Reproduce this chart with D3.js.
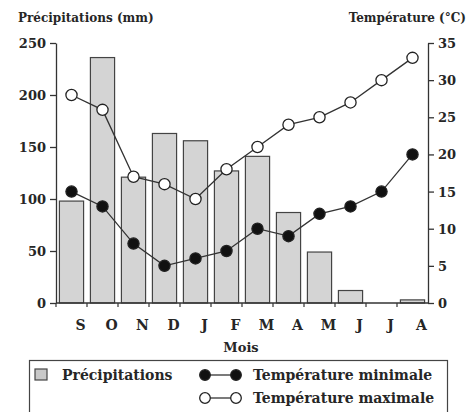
<!DOCTYPE html>
<html>
<head>
<meta charset="utf-8">
<script src="https://cdn.jsdelivr.net/npm/d3@7"></script>
<style>
  body { margin: 0; background: #fff; }
  text { font-family: "DejaVu Serif", "Liberation Serif", serif; font-weight: bold; fill: #262626; }
  .axis path, .axis line { stroke: #333; stroke-width: 1.3; }
</style>
</head>
<body>
<svg width="468" height="412"></svg>
<script>
// months and values
const months = ["S", "O", "N", "D", "J", "F", "M", "A", "M", "J", "J", "A"];
const precip = [98, 236, 121, 163, 156, 127, 141, 87, 49, 12, 0, 3];
const tempMin = [15, 13, 8, 5, 6, 7, 10, 9, 12, 13, 15, 20];
const tempMax = [28, 26, 17, 16, 14, 18, 21, 24, 25, 27, 30, 33];
const precipTicks = [0, 50, 100, 150, 200, 250];
const tempTicks = [0, 5, 10, 15, 20, 25, 30, 35];

const svg = d3.select("svg");
const plotL = 56, plotR = 428, plotT = 43, plotB = 303;

const x = d3.scaleBand()
  .domain(d3.range(months.length))
  .range([plotL, plotR])
  .paddingInner(0.22)
  .paddingOuter(0.11);

const yP = d3.scaleLinear().domain([0, 250]).range([plotB, plotT]);
const yT = d3.scaleLinear().domain([0, 35]).range([plotB, plotT]);

// bars
svg.append("g").selectAll("rect")
  .data(precip)
  .join("rect")
    .attr("x", (d, i) => x(i))
    .attr("y", d => yP(d))
    .attr("width", x.bandwidth())
    .attr("height", d => yP(0) - yP(d))
    .style("fill", "#d4d4d4")
    .style("stroke", "#444")
    .style("stroke-width", 1.2);

// left axis
const gl = svg.append("g").attr("class", "axis")
  .attr("transform", "translate(" + plotL + ",0)")
  .call(d3.axisLeft(yP).tickValues(precipTicks).tickSize(6).tickSizeOuter(0));
gl.selectAll("text").style("font-size", "13px").attr("x", -10).attr("dy", "0.35em");

// right axis
const gr = svg.append("g").attr("class", "axis")
  .attr("transform", "translate(" + plotR + ",0)")
  .call(d3.axisRight(yT).tickValues(tempTicks).tickSize(6).tickSizeOuter(0));
gr.selectAll("text").style("font-size", "13px").attr("x", 10).attr("dy", "0.35em");

// bottom axis line and ticks at band edges
svg.append("line")
  .attr("x1", plotL).attr("x2", plotR)
  .attr("y1", plotB).attr("y2", plotB)
  .style("stroke", "#333").style("stroke-width", 1.3);
svg.append("g").selectAll("line")
  .data(d3.range(months.length))
  .join("line")
    .attr("x1", i => x(i) - x.step() * 0.11)
    .attr("x2", i => x(i) - x.step() * 0.11)
    .attr("y1", plotB).attr("y2", plotB + 4)
    .style("stroke", "#333").style("stroke-width", 1.2);

svg.append("g").selectAll("text")
  .data(months)
  .join("text")
    .attr("x", (d, i) => x(i) + x.bandwidth() / 2 + 9)
    .attr("y", plotB + 27)
    .attr("text-anchor", "middle")
    .style("font-size", "14px")
    .text(d => d);

svg.append("text")
  .attr("x", 241).attr("y", 352)
  .attr("text-anchor", "middle")
  .style("font-size", "13px")
  .text("Mois");

// axis titles
svg.append("text")
  .attr("x", 18).attr("y", 22)
  .style("font-size", "12px")
  .text("Précipitations (mm)");
svg.append("text")
  .attr("x", 466).attr("y", 22)
  .attr("text-anchor", "end")
  .style("font-size", "12px")
  .text("Température (°C)");

// temperature lines
const line = d3.line()
  .x((d, i) => x(i) + x.bandwidth() / 2)
  .y(d => yT(d));

[[tempMax, "#fff"], [tempMin, "#111"]].forEach(function(s) {
  svg.append("path")
    .datum(s[0])
    .attr("d", line)
    .style("fill", "none")
    .style("stroke", "#333")
    .style("stroke-width", 1.3);
  svg.append("g").selectAll("circle")
    .data(s[0])
    .join("circle")
      .attr("cx", (d, i) => x(i) + x.bandwidth() / 2)
      .attr("cy", d => yT(d))
      .attr("r", 5.6)
      .style("fill", s[1])
      .style("stroke", "#222")
      .style("stroke-width", 1.3);
});

// legend
const lg = svg.append("g");
lg.append("rect")
  .attr("x", 29.5).attr("y", 360.5)
  .attr("width", 418).attr("height", 60)
  .style("fill", "none").style("stroke", "#444").style("stroke-width", 1.2);
lg.append("rect")
  .attr("x", 35).attr("y", 369)
  .attr("width", 12).attr("height", 11)
  .style("fill", "#c8c8c8").style("stroke", "#444").style("stroke-width", 1.2);
lg.append("text").attr("x", 62).attr("y", 380).style("font-size", "14px").text("Précipitations");

[[tempMin, "#111", 375, "Température minimale"], [tempMax, "#fff", 398, "Température maximale"]].forEach(function(s) {
  lg.append("line")
    .attr("x1", 205).attr("x2", 236)
    .attr("y1", s[2]).attr("y2", s[2])
    .style("stroke", "#333").style("stroke-width", 1.3);
  lg.selectAll(null)
    .data([205, 236])
    .join("circle")
      .attr("cx", d => d).attr("cy", s[2]).attr("r", 5.3)
      .style("fill", s[1]).style("stroke", "#222").style("stroke-width", 1.3);
  lg.append("text").attr("x", 253).attr("y", s[2] + 5).style("font-size", "14px").text(s[3]);
});
</script>
</body>
</html>
